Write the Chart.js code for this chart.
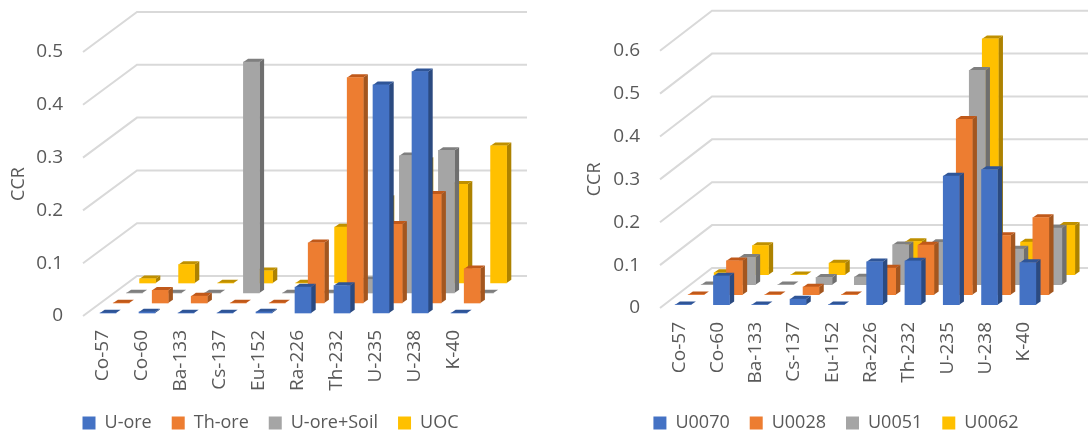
<!DOCTYPE html>
<html>
<head>
<meta charset="utf-8">
<title>CCR</title>
<script src="https://cdn.jsdelivr.net/npm/chart.js@4/dist/chart.umd.min.js"></script>
<style>
html, body { margin: 0; padding: 0; background: #fff; width: 1088px; height: 433px; overflow: hidden; }
canvas { position: absolute; top: 0; }
#chartLeft { left: 0; }
#chartRight { left: 584px; }
</style>
</head>
<body>
<canvas id="chartLeft" width="541" height="433"></canvas>
<canvas id="chartRight" width="504" height="433"></canvas>
<script>
const NUCLIDES = ['Co-57', 'Co-60', 'Ba-133', 'Cs-137', 'Eu-152', 'Ra-226', 'Th-232', 'U-235', 'U-238', 'K-40'];

// left chart
const LEFT_NAMES = ['U-ore', 'Th-ore', 'U-ore+Soil', 'UOC'];
const U_ORE = [0, 0.002, 0, 0, 0.002, 0.049, 0.052, 0.432, 0.457, 0];
const TH_ORE = [0, 0.024, 0.013, 0, 0, 0.114, 0.427, 0.149, 0.206, 0.065];
const U_ORE_SOIL = [0, 0, 0, 0.4375, 0, 0, 0.025, 0.26, 0.27, 0];
const UOC = [0.008, 0.035, 0, 0.023, 0, 0.106, 0.16, 0.232, 0.187, 0.26];

// right chart
const RIGHT_NAMES = ['U0070', 'U0028', 'U0051', 'U0062'];
const U0070 = [0, 0.067, 0, 0.013, 0, 0.1, 0.102, 0.3, 0.315, 0.098];
const U0028 = [0, 0.079, 0, 0.018, 0, 0.062, 0.116, 0.409, 0.138, 0.18];
const U0051 = [0, 0.064, 0, 0.017, 0.018, 0.093, 0.098, 0.5, 0.083, 0.132];
const U0062 = [0.005, 0.068, 0, 0.027, 0, 0.0775, 0.07, 0.55, 0.076, 0.115];

const FRONT_COLORS = ['#4472C4', '#ED7D31', '#A5A5A5', '#FFC000'];
const SIDE_COLORS = ['#2B4A80', '#A3561F', '#6F6F6F', '#AD8200'];
const TOP_COLORS = ['#2F5597', '#C0591A', '#7F7F7F', '#BF9000'];
const TEXT_COLOR = '#595959';
const GRID_COLOR = '#D9D9D9';
const FONT = '"Open Sans", sans-serif';
const LEGEND_DROP = 9; // legend padding may run past the canvas bottom

// fake 3D: every series sits further back on the floor
const faces3d = {
    id: 'faces3d',
    beforeDatasetsDraw(chart, args, opts) {
        const ctx = chart.ctx;
        const area = chart.chartArea;
        ctx.save();
        ctx.strokeStyle = GRID_COLOR;
        ctx.lineWidth = 2;
        chart.scales.y.ticks.forEach(t => {
            const y = chart.scales.y.getPixelForValue(t.value);
            ctx.beginPath();
            ctx.moveTo(area.left, y);
            ctx.lineTo(area.left + opts.wallX, y - opts.wallY);
            ctx.lineTo(area.right + opts.wallX, y - opts.wallY);
            ctx.stroke();
        });
        ctx.restore();
    },
    beforeDatasetDraw(chart, args, opts) {
        const ctx = chart.ctx;
        const i = args.index;
        ctx.save();
        ctx.translate(opts.startX + i * opts.stepX, opts.startY - i * opts.stepY);
        args.meta.data.forEach(bar => {
            const left = bar.x - bar.width / 2;
            const right = bar.x + bar.width / 2;
            ctx.fillStyle = SIDE_COLORS[i];
            ctx.beginPath();
            ctx.moveTo(right, bar.y);
            ctx.lineTo(right + opts.sideX, bar.y - opts.sideY);
            ctx.lineTo(right + opts.sideX, bar.base - opts.sideY);
            ctx.lineTo(right, bar.base);
            ctx.closePath();
            ctx.fill();
            ctx.fillStyle = TOP_COLORS[i];
            ctx.beginPath();
            ctx.moveTo(left, bar.y);
            ctx.lineTo(right, bar.y);
            ctx.lineTo(right + opts.sideX, bar.y - opts.sideY);
            ctx.lineTo(left + opts.sideX, bar.y - opts.sideY);
            ctx.closePath();
            ctx.fill();
        });
    },
    afterDatasetDraw(chart) {
        chart.ctx.restore();
    }
};

function makeChart(id, names, series, cfg) {
    return new Chart(document.getElementById(id), {
        type: 'bar',
        plugins: [faces3d],
        data: {
            labels: NUCLIDES,
            datasets: series.map((values, i) => ({
                label: names[i],
                data: values,
                backgroundColor: FRONT_COLORS[i],
                borderWidth: 0,
                grouped: false,
                barThickness: 16,
                clip: false
            }))
        },
        options: {
            responsive: false,
            animation: false,
            layout: { padding: { top: cfg.top, bottom: -LEGEND_DROP } },
            scales: {
                x: {
                    grid: { display: false, drawTicks: false },
                    border: { display: false },
                    ticks: {
                        autoSkip: false, minRotation: 90, maxRotation: 90, padding: 14,
                        color: TEXT_COLOR, font: { family: FONT, size: 19 }
                    },
                    afterFit: s => { s.height = 433 + LEGEND_DROP - s.chart.legend.height - cfg.bottom; }
                },
                y: {
                    min: 0,
                    max: cfg.max,
                    grid: { display: false, drawTicks: false },
                    border: { display: false },
                    ticks: { stepSize: 0.1, padding: 20, color: TEXT_COLOR, font: { family: FONT, size: 19 } },
                    title: {
                        display: true, text: 'CCR', color: TEXT_COLOR, padding: { top: cfg.titleTop, bottom: 0 },
                        font: { family: FONT, size: 18 }
                    },
                    afterFit: s => { s.width = cfg.left; }
                },
                pad: {
                    type: 'linear', axis: 'y', position: 'right',
                    grid: { display: false, drawTicks: false },
                    border: { display: false },
                    ticks: { display: false },
                    afterFit: s => { s.width = cfg.rightPad; }
                }
            },
            plugins: {
                legend: {
                    position: 'bottom',
                    labels: { boxWidth: 13, boxHeight: 13, padding: 20, color: TEXT_COLOR, font: { family: FONT, size: 18 } }
                },
                tooltip: { enabled: false },
                faces3d: cfg.depth
            }
        }
    });
}

document.fonts.load('19px "Open Sans"').finally(() => {
    makeChart('chartLeft', LEFT_NAMES, [U_ORE, TH_ORE, U_ORE_SOIL, UOC], {
        max: 0.5, top: 52, bottom: 316, left: 83, rightPad: 68, titleTop: 8,
        depth: { wallX: 54, wallY: 40, startX: 5.5, startY: -3, stepX: 13.2, stepY: 10, sideX: 4.7, sideY: 3.3 }
    });
    makeChart('chartRight', RIGHT_NAMES, [U0070, U0028, U0051, U0062], {
        max: 0.6, top: 50.7, bottom: 308, left: 76, rightPad: 45, titleTop: 0,
        depth: { wallX: 52, wallY: 40, startX: 4, startY: -3.3, stepX: 13, stepY: 10, sideX: 4.7, sideY: 3.3 }
    });
});
</script>
</body>
</html>
